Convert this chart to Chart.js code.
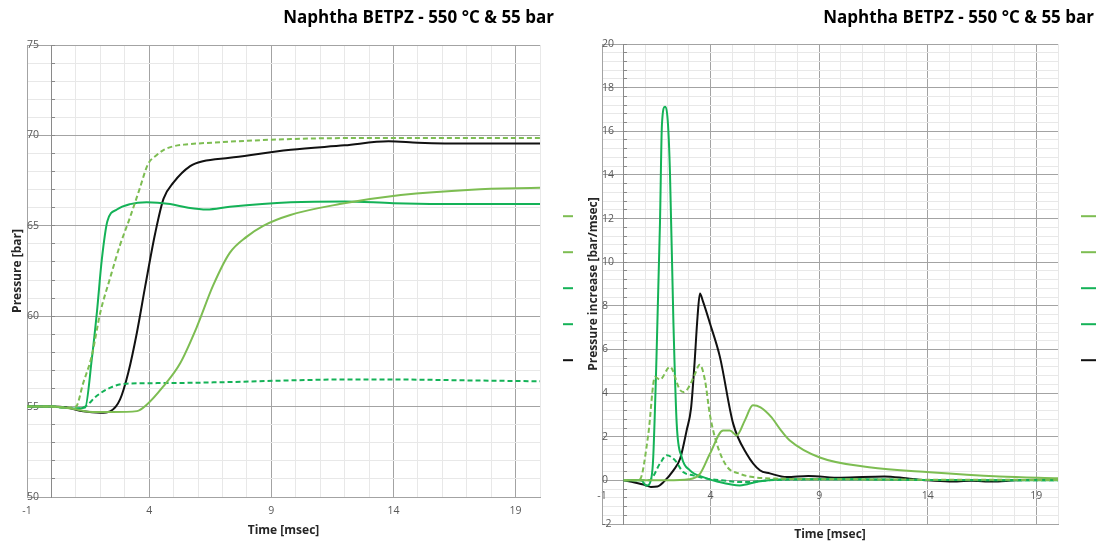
<!DOCTYPE html>
<html>
<head>
<meta charset="utf-8">
<title>Naphtha BETPZ - 550 °C &amp; 55 bar</title>
<script src="https://cdn.jsdelivr.net/npm/chart.js@4.4.1/dist/chart.umd.min.js"></script>
<style>
html, body { margin:0; padding:0; background:#ffffff; }
body { width:1104px; height:546px; position:relative; overflow:hidden; }
.box { position:absolute; top:0; height:546px; }
#boxL { left:0; width:576px; }
#boxR { left:575px; width:524px; }
</style>
</head>
<body>
<div class="box" id="boxL"><canvas id="chartL"></canvas></div>
<div class="box" id="boxR"><canvas id="chartR"></canvas></div>
<script>
// ---------------- DATA ----------------
const chartTitle = 'Naphtha BETPZ - 550 °C & 55 bar';
const seriesNames = ['Test 1', 'Test 2', 'Test 3', 'Test 4', 'Test 5'];

// Left chart: pressure [bar] vs time [msec]
const pLightDashT = [-1, 0, 0.5, 1.0, 1.3, 1.65, 2.0, 2.4, 2.8, 3.2, 3.6, 3.95, 4.3, 4.6, 5.0, 5.5, 6.6, 8, 9.8, 12, 14, 17, 20];
const pLightDashV = [55, 55, 54.95, 55, 56.3, 57.8, 60.2, 62.1, 63.9, 65.4, 67.0, 68.4, 68.9, 69.2, 69.4, 69.5, 69.6, 69.7, 69.8, 69.85, 69.85, 69.85, 69.85];

const pLightSolidT = [-1, 0, 0.5, 1.0, 1.5, 2.5, 3.5, 3.9, 4.57, 5.27, 5.95, 6.62, 7.3, 8.0, 8.67, 9.78, 11.8, 14.3, 17.2, 20];
const pLightSolidV = [55, 55, 54.95, 54.85, 54.72, 54.7, 54.75, 55.1, 56.1, 57.4, 59.4, 61.7, 63.5, 64.4, 65.0, 65.6, 66.2, 66.7, 67.0, 67.1];

const pGreenDashT = [-1, 0, 0.5, 1.0, 1.38, 1.86, 2.5, 3.08, 4.6, 7, 9.8, 12, 14, 17, 20];
const pGreenDashV = [55, 55, 54.95, 54.9, 55.0, 55.6, 56.1, 56.27, 56.3, 56.35, 56.45, 56.5, 56.5, 56.45, 56.4];

const pGreenSolidT = [-1, 0, 0.5, 1.0, 1.38, 1.65, 1.86, 2.06, 2.29, 2.68, 3.22, 3.9, 4.86, 5.6, 6.36, 7.3, 9.8, 12, 14, 17, 20];
const pGreenSolidV = [55, 55, 54.95, 54.9, 54.95, 57.6, 60.2, 63.1, 65.25, 65.9, 66.2, 66.3, 66.2, 66.0, 65.9, 66.05, 66.3, 66.35, 66.25, 66.2, 66.2];

const pBlackT = [-1, 0, 0.63, 1.3, 2.0, 2.4, 2.81, 3.15, 3.5, 3.84, 4.25, 4.59, 5.0, 5.68, 6.2, 7.3, 9.8, 12, 13.8, 15, 17, 20];
const pBlackV = [55, 55, 54.95, 54.74, 54.66, 54.74, 55.4, 56.9, 59.1, 61.66, 64.6, 66.5, 67.4, 68.3, 68.57, 68.76, 69.2, 69.45, 69.67, 69.6, 69.55, 69.55];

// Right chart: pressure increase [bar/msec] vs time [msec]
const rLightDashT = [0, 0.5, 0.75, 1.13, 1.44, 1.67, 2.13, 2.59, 2.75, 2.95, 3.25, 3.5, 3.74, 3.97, 4.28, 4.74, 5.35, 5.95, 7, 10, 14, 20];
const rLightDashV = [0, 0, 0.05, 2.1, 4.74, 4.62, 5.2, 4.15, 4.05, 4.2, 4.8, 5.3, 4.6, 3.0, 1.7, 0.65, 0.3, 0.15, 0.08, 0.05, 0.03, 0.02];

const rLightSolidT = [0, 1, 2, 3.0, 3.51, 3.97, 4.58, 4.89, 5.2, 5.58, 5.95, 6.3, 6.8, 7.2, 7.65, 9.03, 11.3, 14.1, 17.3, 20];
const rLightSolidV = [0, 0, 0, 0.05, 0.3, 1.22, 2.29, 2.29, 2.06, 2.75, 3.44, 3.35, 2.9, 2.35, 1.83, 1.05, 0.6, 0.37, 0.18, 0.1];

const rGreenDashT = [0, 1.0, 1.21, 1.67, 1.98, 2.36, 2.74, 3.2, 3.82, 4.5, 5.5, 7, 10, 14, 20];
const rGreenDashV = [0, 0, 0.02, 0.77, 1.15, 0.92, 0.38, 0.23, 0.08, 0.0, -0.08, 0.02, 0.05, 0.02, 0];

const rGreenSolidT = [0, 0.8, 1.05, 1.28, 1.36, 1.51, 1.67, 1.76, 1.9, 2.04, 2.13, 2.29, 2.44, 2.67, 3.05, 3.66, 4.3, 5.35, 6.2, 7.5, 10, 14, 20];
const rGreenSolidV = [0, 0, -0.25, 0.15, 1.07, 5.65, 11.8, 16.3, 17.12, 16.3, 14.1, 7.2, 2.6, 1.07, 0.46, 0.15, -0.05, -0.23, -0.05, 0.05, 0.05, 0.02, 0];

const rBlackT = [0, 0.5, 1.0, 1.25, 1.55, 1.83, 2.29, 2.6, 2.9, 3.1, 3.25, 3.4, 3.51, 3.65, 3.97, 4.43, 5.04, 5.66, 6.27, 6.73, 7.5, 8.5, 10, 12, 13, 14, 15, 16, 17, 18, 20];
const rBlackV = [0, -0.1, -0.22, -0.3, -0.28, -0.08, 0.46, 1.0, 2.3, 3.3, 5.2, 7.5, 8.56, 8.2, 7.2, 5.66, 2.6, 1.22, 0.46, 0.32, 0.15, 0.2, 0.12, 0.18, 0.1, 0.0, -0.05, -0.02, -0.05, 0.0, 0.03];

// Axis ranges / tick steps
const leftXRange = [-1, 20];
const leftYRange = [50, 75];
const rightYRange = [-2, 20];

// ---------------- STYLE ----------------
const LIGHT_GREEN = '#7dbd52';
const GREEN = '#14b257';
const BLACK = '#111111';
const MAJOR = '#a3a3a3';
const MINOR = '#e8e8e8';
const AXIS = '#8a8a8a';
const TICK = '#595959';
const TITLE = '#262626';

Chart.defaults.font.family = "'Open Sans', 'Liberation Sans', sans-serif";

function pts(ts, vs) { return ts.map((t, i) => ({ x: t, y: vs[i] })); }
function ds(label, ts, vs, color, dashed) {
  return {
    label, data: pts(ts, vs), borderColor: color, backgroundColor: color,
    borderWidth: 2, borderDash: dashed ? [5, 3] : [], pointRadius: 0, pointHoverRadius: 0,
    fill: false, cubicInterpolationMode: 'monotone', xAxisID: 'x', yAxisID: 'y'
  };
}
const near = (a, b) => Math.abs(a - b) < 1e-6;
const isXMajor = v => near((v + 1) / 5, Math.round((v + 1) / 5));
const isLeftYMajor = v => near(v / 5, Math.round(v / 5));
const isRightYMajor = v => near(v / 2, Math.round(v / 2));

const titleShift = {
  id: 'titleShift',
  afterLayout(chart, args, opts) {
    const t = chart.titleBlock;
    if (t && opts && opts.dx) { t.left += opts.dx; t.right += opts.dx; }
  }
};

function legendCfg(lineW) {
  return {
    display: true, position: 'right', align: 'center', maxWidth: lineW + 26,
    title: { display: true, text: ' ', padding: { top: 8, bottom: 8 }, font: { size: 12 } },
    labels: {
      usePointStyle: true, pointStyle: 'line', pointStyleWidth: lineW,
      padding: 23, font: { size: 13 }, color: '#000',
      generateLabels: c => Chart.defaults.plugins.legend.labels.generateLabels(c).map(it => Object.assign(it, { text: '' }))
    }
  };
}
const tickFont = { size: 10.5 };
const axisTitleFont = { size: 12, weight: 'bold' };

// ---------------- LEFT CHART ----------------
new Chart(document.getElementById('chartL'), {
  type: 'line',
  data: {
    datasets: [
      ds(seriesNames[0], pLightDashT, pLightDashV, LIGHT_GREEN, true),
      ds(seriesNames[1], pLightSolidT, pLightSolidV, LIGHT_GREEN, false),
      ds(seriesNames[2], pGreenDashT, pGreenDashV, GREEN, true),
      ds(seriesNames[3], pGreenSolidT, pGreenSolidV, GREEN, false),
      ds(seriesNames[4], pBlackT, pBlackV, BLACK, false)
    ]
  },
  plugins: [titleShift],
  options: {
    responsive: true, maintainAspectRatio: false, animation: false, events: [], devicePixelRatio: 1,
    layout: { padding: 0 },
    plugins: {
      titleShift: { dx: 14 },
      title: { display: true, text: chartTitle, align: 'end', fullSize: false, color: '#000',
               font: { size: 17, weight: 'bold' }, padding: { top: 8, bottom: 16.6 } },
      legend: legendCfg(10),
      tooltip: { enabled: false }
    },
    scales: {
      x: {
        type: 'linear', min: leftXRange[0], max: leftXRange[1],
        afterFit: s => { s.height = 49; },
        ticks: { stepSize: 1, autoSkip: false, maxRotation: 0, padding: 8, color: TICK, font: tickFont,
                 callback: v => isXMajor(v) ? String(Math.round(v)) : '' },
        grid: { drawTicks: false, color: c => isXMajor(c.tick.value) ? MAJOR : MINOR },
        border: { display: true, color: MAJOR },
        title: { display: true, text: 'Time [msec]', color: TITLE, font: axisTitleFont, padding: { top: 0, bottom: 8 } }
      },
      y: {
        type: 'linear', min: leftYRange[0], max: leftYRange[1],
        afterFit: s => { s.width = 27; },
        ticks: { stepSize: 1, autoSkip: false, mirror: true, padding: 0, color: TICK, font: tickFont,
                 callback: v => isLeftYMajor(v) ? String(Math.round(v)) : '' },
        grid: { drawTicks: false, color: c => isLeftYMajor(c.tick.value) ? MAJOR : MINOR },
        border: { display: true, color: MAJOR },
        title: { display: true, text: 'Pressure [bar]', color: TITLE, font: axisTitleFont, padding: { top: 10, bottom: 0 } }
      },
      y0: {
        type: 'linear', axis: 'y', position: { x: 0 }, min: leftYRange[0], max: leftYRange[1],
        ticks: { stepSize: 1, autoSkip: false, display: false },
        grid: { drawOnChartArea: false, drawTicks: true, tickLength: -4, color: AXIS },
        border: { display: true, color: AXIS }
      }
    }
  }
});

// ---------------- RIGHT CHART ----------------
new Chart(document.getElementById('chartR'), {
  type: 'line',
  data: {
    datasets: [
      ds(seriesNames[0], rLightDashT, rLightDashV, LIGHT_GREEN, true),
      ds(seriesNames[1], rLightSolidT, rLightSolidV, LIGHT_GREEN, false),
      ds(seriesNames[2], rGreenDashT, rGreenDashV, GREEN, true),
      ds(seriesNames[3], rGreenSolidT, rGreenSolidV, GREEN, false),
      ds(seriesNames[4], rBlackT, rBlackV, BLACK, false)
    ]
  },
  plugins: [titleShift],
  options: {
    responsive: true, maintainAspectRatio: false, animation: false, events: [], devicePixelRatio: 1,
    layout: { padding: 0 },
    plugins: {
      titleShift: { dx: -5 },
      title: { display: true, text: chartTitle, align: 'end', fullSize: true, color: '#000',
               font: { size: 17, weight: 'bold' }, padding: { top: 8, bottom: 15.6 } },
      legend: legendCfg(15),
      tooltip: { enabled: false }
    },
    scales: {
      x: {
        type: 'linear', min: leftXRange[0], max: leftXRange[1],
        afterFit: s => { s.height = 22; },
        ticks: { stepSize: 1, autoSkip: false, display: false },
        grid: { drawTicks: false, color: c => isXMajor(c.tick.value) ? MAJOR : MINOR },
        border: { display: true, color: MAJOR },
        title: { display: true, text: 'Time [msec]', color: TITLE, font: axisTitleFont, padding: { top: 0, bottom: 4 } }
      },
      x2: {
        type: 'linear', axis: 'x', position: { y: 0 }, min: leftXRange[0], max: leftXRange[1],
        ticks: { stepSize: 1, autoSkip: false, maxRotation: 0, padding: 9, color: TICK, font: tickFont,
                 callback: v => isXMajor(v) ? String(Math.round(v)) : '' },
        grid: { drawOnChartArea: false, drawTicks: false },
        border: { display: false }
      },
      y: {
        type: 'linear', min: rightYRange[0], max: rightYRange[1],
        afterFit: s => { s.width = 27; },
        ticks: { stepSize: 0.4, autoSkip: false, mirror: true, padding: 0, color: TICK, font: tickFont,
                 callback: v => isRightYMajor(v) ? String(Math.round(v)) : '' },
        grid: { drawTicks: false, color: c => isRightYMajor(c.tick.value) ? MAJOR : MINOR },
        border: { display: true, color: MAJOR },
        title: { display: true, text: 'Pressure increase [bar/msec]', color: TITLE, font: axisTitleFont, padding: { top: 11, bottom: 0 } }
      },
      y0: {
        type: 'linear', axis: 'y', position: { x: 0 }, min: rightYRange[0], max: rightYRange[1],
        ticks: { stepSize: 0.4, autoSkip: false, display: false },
        grid: { drawOnChartArea: false, drawTicks: true, tickLength: -4, color: AXIS },
        border: { display: true, color: AXIS }
      }
    }
  }
});
</script>
</body>
</html>
